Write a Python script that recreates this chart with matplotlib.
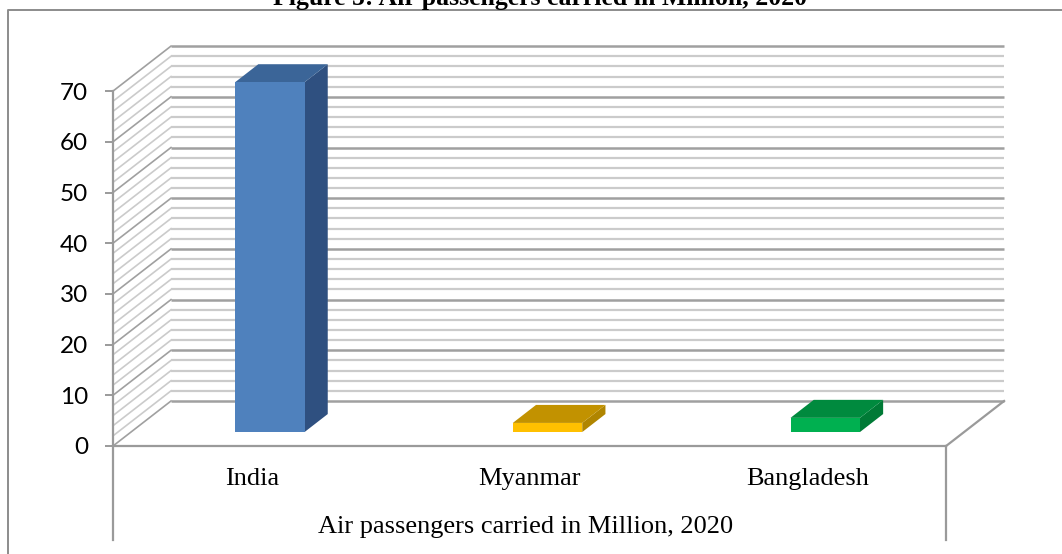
import matplotlib.pyplot as plt
from matplotlib.patches import Polygon
from matplotlib.lines import Line2D

# ── data ──────────────────────────────────────────────────────────
categories = ["India", "Myanmar", "Bangladesh"]
values = [69.0, 1.8, 2.8]
y_ticks = [0, 10, 20, 30, 40, 50, 60, 70]
title = "Figure 5: Air passengers carried in Million, 2020"
x_title = "Air passengers carried in Million, 2020"

front_colors = ["#4F81BD", "#FFC000", "#00B050"]
top_colors = ["#3B6598", "#C29200", "#008A3E"]
side_colors = ["#2F5080", "#B08500", "#007A36"]

# ── geometry (pixel mapping of the 3-D box) ──────────────────────
W, H = 1062, 554
X0_PX, CAT_PX = 113, 277.7          # front floor left, px per category
Y0_PX, VAL_PX = 446, 5.07           # value 0 row, px per unit
DX = 58 / CAT_PX                    # depth shift in category units
DY = 45 / VAL_PX                    # depth shift in value units
F0, F1 = 0.31, 0.71                 # bar front / back depth fraction
BAR_W = 0.25
Y_MAX = 70
LABEL_BOTTOM = (Y0_PX - 540) / VAL_PX

GRID_MAJOR = "#a0a0a0"
GRID_MINOR = "#cbcbcb"
EDGE = "#9a9a9a"

fig = plt.figure(figsize=(W / 100, H / 100), dpi=100)
ax = fig.add_axes([0, 0, 1, 1])
ax.set_xlim(-X0_PX / CAT_PX, (W - X0_PX) / CAT_PX)
ax.set_ylim((Y0_PX - H) / VAL_PX, Y0_PX / VAL_PX)
ax.set_facecolor("none")

# back wall + side wall gridlines
n = len(categories)
for v in range(0, Y_MAX + 1, 2):
    major = v % 10 == 0
    c = GRID_MAJOR if major else GRID_MINOR
    lw = 1.8 if major else 1.6
    ax.plot([DX, n + DX], [v + DY, v + DY], color=c, lw=lw, zorder=1,
            solid_capstyle="butt")
    ax.plot([0, DX], [v, v + DY], color=c, lw=1.2, zorder=1)

# floor right edge and label box right edge
ax.plot([n, n + DX], [0, DY], color=EDGE, lw=1.6, zorder=2)
ax.plot([n, n], [0, LABEL_BOTTOM], color=EDGE, lw=1.6, zorder=2)
ax.plot([0, n], [0, 0], color=EDGE, lw=1.6, zorder=2)

# 3-D bars
for i, v in enumerate(values):
    xl = i + 0.5 - BAR_W / 2 + F0 * DX
    xr = xl + BAR_W
    yb = F0 * DY
    yt = yb + v
    ddx, ddy = (F1 - F0) * DX, (F1 - F0) * DY
    front = Polygon([(xl, yb), (xr, yb), (xr, yt), (xl, yt)],
                    closed=True, fc=front_colors[i], ec="none", zorder=5)
    top = Polygon([(xl, yt), (xr, yt), (xr + ddx, yt + ddy), (xl + ddx, yt + ddy)],
                  closed=True, fc=top_colors[i], ec="none", zorder=5)
    side = Polygon([(xr, yb), (xr + ddx, yb + ddy), (xr + ddx, yt + ddy), (xr, yt)],
                   closed=True, fc=side_colors[i], ec="none", zorder=5)
    for p in (side, top, front):
        ax.add_patch(p)

# y axis (front-left edge)
for s in ("top", "right", "bottom"):
    ax.spines[s].set_visible(False)
ax.spines["left"].set_position(("data", 0))
ax.spines["left"].set_bounds(LABEL_BOTTOM, Y_MAX)
ax.spines["left"].set_color(EDGE)
ax.spines["left"].set_linewidth(1.6)
ax.set_yticks(y_ticks)
ax.tick_params(axis="y", direction="out", length=6, width=1.4, color=EDGE,
               pad=12, labelsize=17.5)
for lab in ax.get_yticklabels():
    lab.set_fontfamily("Lato")
ax.set_xticks([])

# category labels and axis title
for i, c in enumerate(categories):
    ax.text(i + 0.5, (Y0_PX - 485) / VAL_PX, c, ha="center", va="baseline",
            fontsize=19, family="Liberation Serif", color="black")
ax.text(n / 2 - 0.015, (Y0_PX - 533) / VAL_PX, x_title, ha="center", va="baseline",
        fontsize=19, family="Liberation Serif", color="black")

# outer border and figure title (cut off at the top, as in the source)
fig.add_artist(Line2D([8 / W, 8 / W, 1], [0, 1 - 10 / H, 1 - 10 / H],
                      transform=fig.transFigure, color="#8c8c8c", lw=1.4))
fig.text(540 / W, 1 - 5 / H, title, ha="center", va="baseline",
         fontsize=18.5, fontweight="bold", family="Liberation Serif")

fig.savefig("out.png", dpi=100)
